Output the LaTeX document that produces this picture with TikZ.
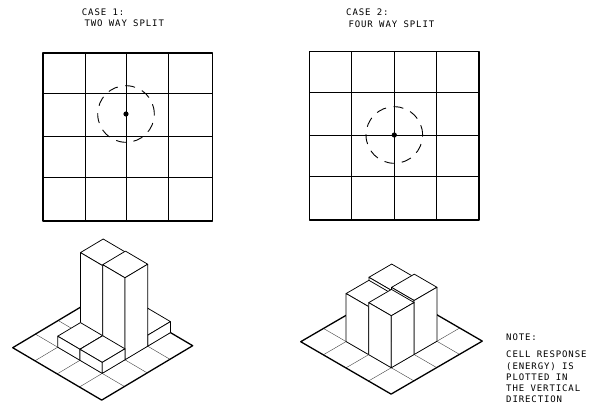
\documentclass[tikz,border=0pt]{standalone}
\usepackage{fontspec}
\newfontfamily\plotfont[LetterSpace=10]{DejaVu Sans Mono}
\usetikzlibrary{positioning}

% one cell column of the isometric view: i, j, height
\newcommand\cellbox[3]{%
  \filldraw[boxline] (#1,#2,#3) -- (#1+1,#2,#3) -- (#1+1,#2+1,#3) -- (#1,#2+1,#3) -- cycle;
  \filldraw[boxline] (#1,#2,0) -- (#1+1,#2,0) -- (#1+1,#2,#3) -- (#1,#2,#3) -- cycle;
  \filldraw[boxline] (#1+1,#2,0) -- (#1+1,#2+1,0) -- (#1+1,#2+1,#3) -- (#1+1,#2,#3) -- cycle;
}
\newcommand\cellfloor{%
  \foreach \k in {1,2,3} {
    \draw[floorgrid] (\k,0,0) -- (\k,4,0);
    \draw[floorgrid] (0,\k,0) -- (4,\k,0);
  }
  \draw[flooredge] (0,0,0) -- (4,0,0) -- (4,4,0) -- (0,4,0) -- cycle;
}

\begin{document}
\begin{tikzpicture}[x=1pt, y=-1pt,
    lettering/.style={font=\plotfont\fontsize{9}{11.3}\selectfont, inner sep=0pt, anchor=west},
    cellline/.style={line width=0.8pt},
    frame/.style={line width=1.4pt, line join=round},
    spread/.style={line width=0.9pt, dash pattern=on 10pt off 7.6pt},
    hit/.style={fill=black},
    floorgrid/.style={line width=0.4pt, black!75},
    flooredge/.style={line width=1.3pt, line join=round},
    boxline/.style={fill=white, draw=black, line width=0.75pt, line join=round}
]
    \useasboundingbox (0,0) rectangle (595,413);

    % case 1, seen from above
    \node[lettering] (case1) at (81.7,12.7) {CASE 1:};
    \node[lettering] (split1) at (84.3,23.7) {TWO WAY SPLIT};
    \foreach \x in {85.7,126,168.3} \draw[cellline] (\x,53) -- (\x,221);
    \foreach \y in {93.3,136.7,177.7} \draw[cellline] (43,\y) -- (212.5,\y);
    \draw[frame] (43,53) rectangle (212.5,221);
    \draw[spread] (126,114) circle (28.3pt);
    \fill[hit] (126,114) circle (2.6pt);

    % case 2, seen from above
    \node[lettering] (case2) at (346,12.7) {CASE 2:};
    \node[lettering] (split2) at (348.3,24) {FOUR WAY SPLIT};
    \foreach \x in {351.7,394.3,436.7} \draw[cellline] (\x,51.7) -- (\x,220);
    \foreach \y in {92.7,135,176.7} \draw[cellline] (309.3,\y) -- (479,\y);
    \draw[frame] (309.3,51.7) rectangle (479,220);
    \draw[spread] (394.3,135) circle (28.3pt);
    \fill[hit] (394.3,135) circle (2.6pt);

    % case 1, responses
    \begin{scope}[shift={(12.7,347.7)}, x={(22.25pt,-13.1pt)}, y={(22.75pt,13.6pt)}, z={(0pt,1pt)}]
        \cellfloor
        \foreach \i/\j/\h in {1/3/11, 2/3/11, 1/2/81, 2/2/82, 1/1/11, 2/1/11}
            {\cellbox{\i}{\j}{\h}}
    \end{scope}

    % case 2, responses
    \begin{scope}[shift={(300.7,341.7)}, x={(22.6pt,-13.1pt)}, y={(22.8pt,13.25pt)}, z={(0pt,1pt)}]
        \cellfloor
        \foreach \i/\j/\h in {1/2/51, 1/1/48, 2/2/54, 2/1/52}
            {\cellbox{\i}{\j}{\h}}
    \end{scope}

    \node[lettering] (note) at (506,337.3) {NOTE:};
    \node[lettering, anchor=north west, align=left] (notetext) at (506,350.9)
        {CELL RESPONSE\\(ENERGY) IS\\PLOTTED IN\\THE VERTICAL\\DIRECTION};
\end{tikzpicture}
\end{document}
